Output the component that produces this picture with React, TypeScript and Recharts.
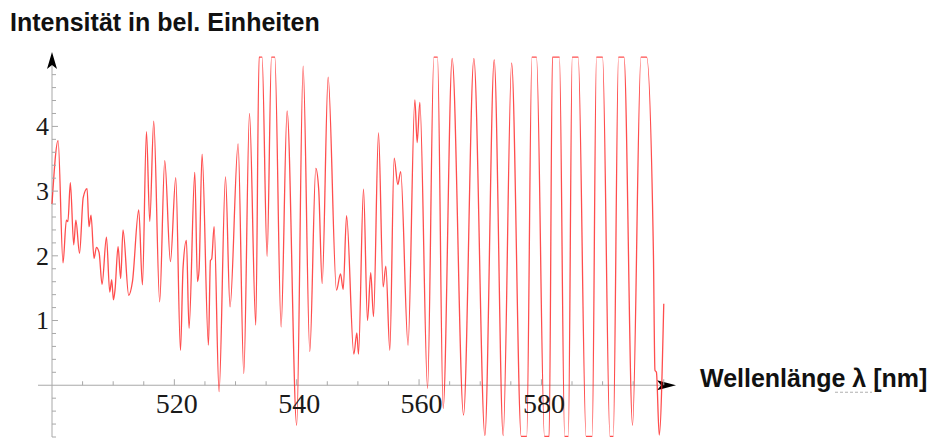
import { LineChart, Line, XAxis, YAxis, ReferenceLine } from "recharts";

// wavelength in nm (mostly local extrema)
const wavelength = [
  500.0, 501.0, 501.8, 502.35, 502.6, 503.0, 503.55, 503.9, 504.5, 505.1,
  505.73, 506.05, 506.38, 506.87, 507.26, 507.7, 508.18, 508.9, 509.44, 509.76,
  510.04, 510.3, 510.8, 511.23, 511.61, 512.54, 513.15, 514.18, 514.78, 515.44,
  515.98, 516.63, 517.6, 518.43, 519.36, 520.23, 521.0, 521.42, 521.97, 522.4,
  523.34, 523.78, 524.04, 524.53, 525.57, 525.9, 526.1, 526.5, 527.31, 528.36,
  529.1, 530.42, 531.35, 532.28, 533.31, 533.85, 534.34, 535.16, 535.88, 536.42,
  537.45, 538.43, 540.0, 541.05, 542.14, 543.12, 543.6, 544.16, 545.14, 546.5,
  547.16, 547.6, 548.15, 549.34, 549.83, 550.1, 550.92, 551.57, 552.1, 552.56,
  553.37, 554.13, 554.57, 555.22, 555.93, 556.53, 557.0, 558.2, 559.31, 559.69,
  560.13, 561.39, 562.42, 563.02, 563.94, 565.41, 567.27, 568.96, 570.76, 572.28,
  573.75, 575.13, 576.7, 577.6, 578.45, 579.2, 580.5, 581.27, 581.8, 582.95,
  583.8, 584.4, 585.04, 586.02, 587.3, 588.3, 589.0, 590.0, 591.2, 591.75,
  592.6, 593.5, 594.9, 596.27, 597.2, 598.3, 598.56, 598.8, 599.26, 600.0,
];

// intensity in arbitrary units
const intensity = [
  2.8, 3.78, 1.89, 2.55, 2.53, 3.13, 2.17, 2.55, 2.04, 2.9,
  3.04, 2.45, 2.63, 1.96, 2.13, 2.05, 1.56, 2.29, 1.44, 1.63,
  1.32, 1.47, 2.14, 1.65, 2.4, 1.39, 1.6, 2.71, 1.55, 3.92,
  2.53, 4.08, 1.29, 3.47, 1.91, 3.21, 0.54, 1.81, 2.24, 0.88,
  3.29, 1.6, 1.78, 3.57, 0.62, 1.93, 1.95, 2.45, -0.1, 3.22,
  1.21, 3.73, 0.18, 4.2, 0.93, 5.07, 5.07, 1.99, 5.07, 5.07,
  0.9, 4.24, -0.62, 4.93, 0.52, 3.35, 3.02, 1.57, 4.76, 1.47,
  1.72, 1.48, 2.62, 0.48, 0.81, 0.48, 3.03, 1.0, 1.74, 1.06,
  3.9, 1.52, 1.84, 0.54, 3.51, 3.1, 3.3, 0.62, 4.41, 3.75,
  4.37, -0.05, 5.07, 5.07, -0.36, 5.05, -0.46, 5.05, -0.78, 5.03,
  -0.78, 4.98, -0.79, -0.79, 5.07, 5.07, -0.79, -0.79, 5.07, 5.07,
  -0.79, -0.79, 5.07, 5.07, -0.79, -0.79, 5.07, 5.07, -0.79, -0.79,
  5.07, 5.07, -0.62, 5.07, 5.07, 2.09, 0.23, 0.2, -0.77, 1.26,
];

const xTicks = [505, 510, 515, 520, 525, 530, 535, 540, 545, 550, 555, 560, 565, 570, 575, 580, 585, 590, 595, 600];
const xLabels = [520, 540, 560, 580];
const yTicks = [
  -0.8, -0.6, -0.4, -0.2, 0.2, 0.4, 0.6, 0.8, 1, 1.2, 1.4, 1.6, 1.8, 2, 2.2, 2.4, 2.6, 2.8,
  3, 3.2, 3.4, 3.6, 3.8, 4, 4.2, 4.4, 4.6, 4.8,
];
const yLabels = [1, 2, 3, 4];

const W = 935;
const H = 441;
// axes get 1px each (a 0px axis is not rendered at all)
const M = { top: 52, right: 259, bottom: 3, left: 51 };
const PLOT_LEFT = M.left + 1;
const PLOT_BOTTOM = H - M.bottom - 1;
const Y_MIN = -0.8;
const Y_MAX = 5.15;
const ZERO_Y = M.top + ((PLOT_BOTTOM - M.top) * Y_MAX) / (Y_MAX - Y_MIN);

const AXIS = "#a8a8a8";
const SERIF = "'Liberation Serif', 'Times New Roman', serif";
const SANS = "'Liberation Sans', Arial, sans-serif";

const data = wavelength.map((w, i) => ({ w, v: intensity[i] }));

function XTick(props: any) {
  const { x, payload } = props;
  const v = payload.value;
  const major = v % 20 === 0;
  return (
    <g>
      <line x1={x} y1={ZERO_Y} x2={x} y2={ZERO_Y - (major ? 6 : 4)} stroke={AXIS} strokeWidth={1} />
      {xLabels.includes(v) && (
        <text x={x + 2.5} y={ZERO_Y + 28} textAnchor="middle" fontFamily={SERIF} fontSize={28} fill="#1a1a1a">
          {v}
        </text>
      )}
    </g>
  );
}

function YTick(props: any) {
  const { y, payload } = props;
  const v = payload.value;
  const major = Math.abs(v - Math.round(v)) < 1e-6;
  return (
    <g>
      <line x1={PLOT_LEFT} y1={y} x2={PLOT_LEFT + (major ? 6 : 4)} y2={y} stroke={AXIS} strokeWidth={1} />
      {yLabels.includes(v) && (
        <text x={PLOT_LEFT - 3} y={y} dy="0.34em" textAnchor="end" fontFamily={SERIF} fontSize={26} fill="#1a1a1a">
          {v}
        </text>
      )}
    </g>
  );
}

function XAxisLine(props: any) {
  const { x1, x2, y1 } = props;
  const l = Math.min(x1, x2);
  const r = Math.max(x1, x2);
  return (
    <g>
      <line x1={l - 14} y1={y1} x2={r - 12} y2={y1} stroke={AXIS} strokeWidth={1} />
      <polygon points={`${r},${y1} ${r - 19},${y1 - 5} ${r - 15},${y1} ${r - 19},${y1 + 5}`} fill="#000" />
      <text x={r + 24} y={y1 + 2} fontFamily={SANS} fontWeight="bold" fontSize={25} fill="#111">
        Wellenlänge λ [nm]
      </text>
      <line x1={r + 159} y1={y1 + 7} x2={r + 196} y2={y1 + 7} stroke="#b0b0b0" strokeWidth={1} strokeDasharray="3 2" />
    </g>
  );
}

function YAxisLine(props: any) {
  const { x1, y1, y2 } = props;
  const t = Math.min(y1, y2);
  const b = Math.max(y1, y2);
  return (
    <g>
      <line x1={x1} y1={b} x2={x1} y2={t + 12} stroke={AXIS} strokeWidth={1} />
      <polygon points={`${x1},${t} ${x1 - 5},${t + 17} ${x1},${t + 13} ${x1 + 5},${t + 17}`} fill="#000" />
      <text x={x1 - 42} y={t - 21} fontFamily={SANS} fontWeight="bold" fontSize={25} fill="#111">
        Intensität in bel. Einheiten
      </text>
    </g>
  );
}

export default function App() {
  return (
    <div style={{ position: "absolute", left: 0, top: 0, width: W, height: H, background: "#fff" }}>
      <LineChart width={W} height={H} data={data} margin={M}>
        <XAxis
          dataKey="w"
          type="number"
          domain={[500, 602]}
          ticks={xTicks}
          interval={0}
          tick={<XTick />}
          tickLine={false}
          axisLine={false}
          height={1}
        />
        <YAxis
          type="number"
          domain={[Y_MIN, Y_MAX]}
          ticks={yTicks}
          interval={0}
          tick={<YTick />}
          tickLine={false}
          axisLine={false}
          width={1}
        />
        <ReferenceLine y={0} shape={XAxisLine} />
        <ReferenceLine x={500} shape={YAxisLine} />
        <Line
          type="monotone"
          dataKey="v"
          stroke="#ff2020"
          strokeWidth={1.3}
          strokeOpacity={0.8}
          dot={false}
          isAnimationActive={false}
        />
      </LineChart>
    </div>
  );
}
